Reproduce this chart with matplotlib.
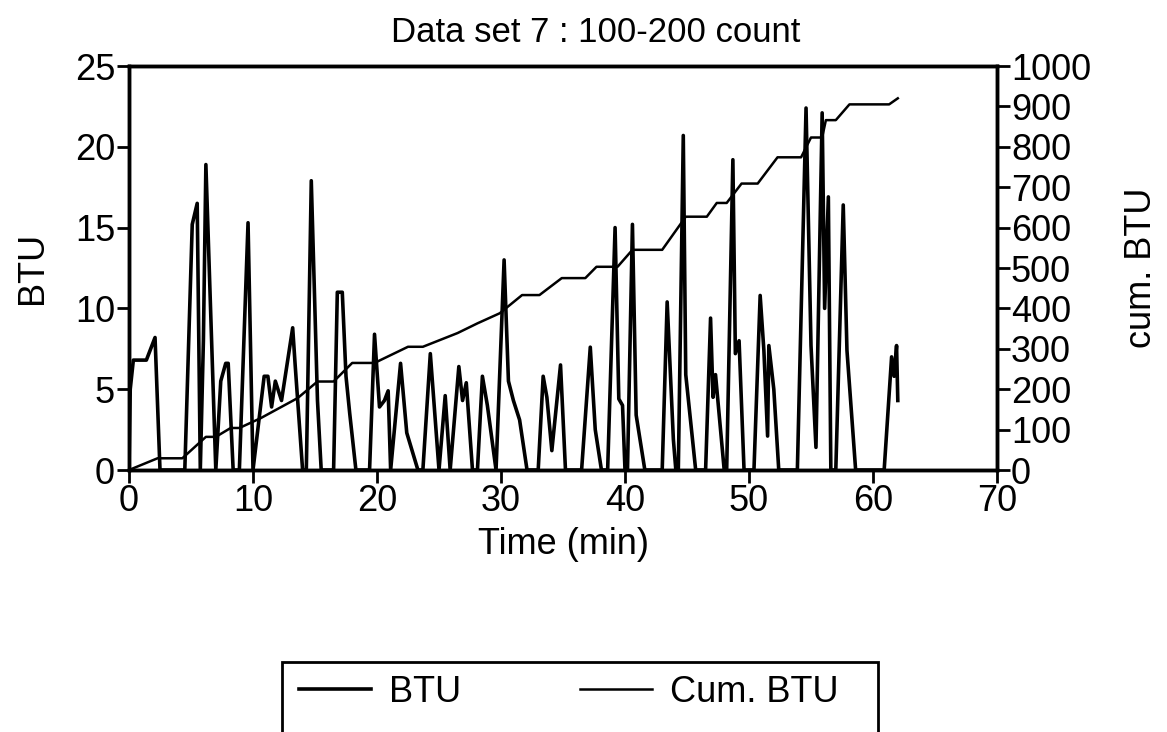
import matplotlib
matplotlib.use("Agg")
import matplotlib.pyplot as plt
from matplotlib.patches import Rectangle

plt.rcParams['font.family'] = ['Liberation Sans', 'DejaVu Sans']

# BTU readings (time in min, BTU)
btu_time = [0, 0.1, 0.35, 1.4, 2.1, 2.5, 4.5, 5.1, 5.5, 5.75, 6.0, 6.2, 7.0, 7.4, 7.8, 8.0,
            8.4, 8.9, 9.6, 10.0, 10.9, 11.2, 11.5, 11.8, 12.3, 13.2, 13.4, 14.0, 14.3, 14.7,
            15.2, 15.5, 16.5, 16.8, 17.2, 17.5, 17.8, 18.3, 19.4, 19.8, 20.2, 20.6, 20.9, 21.1,
            21.9, 22.4, 23.3, 23.7, 24.3, 25.0, 25.5, 25.9, 26.6, 26.9, 27.2, 27.7, 28.1, 28.5,
            28.9, 29.6, 30.25, 30.6, 31.0, 31.5, 32.1, 33.0, 33.4, 33.7, 34.1, 34.8, 35.2, 36.5,
            37.2, 37.6, 38.1, 38.6, 39.2, 39.5, 39.8, 40.0, 40.2, 40.6, 40.9, 41.6, 43.0, 43.4,
            43.9, 44.1, 44.3, 44.7, 44.9, 45.7, 46.5, 46.9, 47.1, 47.3, 48.0, 48.2, 48.7, 48.9,
            49.2, 49.6, 50.4, 50.9, 51.2, 51.5, 51.6, 52.0, 52.4, 53.9, 54.6, 55.0, 55.4, 55.9,
            56.1, 56.4, 56.6, 57.0, 57.6, 57.9, 58.6, 60.9, 61.5, 61.7, 61.9, 62.0]
btu = [0, 5.0, 6.8, 6.8, 8.2, 0, 0, 15.2, 16.5, 0, 8.0, 18.9, 0, 5.5, 6.6, 6.6,
       0, 0, 15.3, 0, 5.8, 5.8, 3.9, 5.5, 4.3, 8.8, 6.5, 0, 0, 17.9,
       4.3, 0, 0, 11.0, 11.0, 5.8, 3.5, 0, 0, 8.4, 3.9, 4.3, 4.9, 0,
       6.6, 2.3, 0, 0, 7.2, 0, 4.6, 0, 6.4, 4.3, 5.4, 0, 0, 5.8,
       4.0, 0, 13.0, 5.5, 4.3, 3.1, 0, 0, 5.8, 4.5, 1.2, 6.5, 0, 0,
       7.6, 2.5, 0, 0, 15.0, 4.4, 4.0, 0, 0, 15.2, 3.4, 0, 0, 10.4,
       1.9, 0, 0, 20.7, 5.9, 0, 0, 9.4, 4.5, 5.9, 0, 0, 19.2, 7.2,
       8.0, 0, 0, 10.8, 7.4, 2.1, 7.7, 5.0, 0, 0, 22.4, 7.7, 1.4, 22.1,
       10.0, 16.9, 0, 0, 16.4, 7.4, 0, 0, 7.0, 5.8, 7.7, 4.3]

# cumulative BTU
cum_time = [0, 2.3, 4.3, 6.2, 7.0, 8.2, 8.9, 10.6, 13.6, 15.2, 16.5, 18.0, 19.8, 22.5,
            23.7, 26.5, 28.1, 29.9, 31.7, 33.1, 34.9, 36.8, 37.7, 39.4, 40.6, 43.0, 44.9,
            46.6, 47.4, 48.2, 49.4, 50.7, 52.3, 54.2, 55.0, 55.9, 56.2, 57.0, 58.1, 61.3, 62.0]
cum_btu = [0, 29, 29, 82, 82, 104, 104, 128, 178, 219, 219, 265, 265, 305,
           305, 339, 363, 388, 433, 433, 475, 475, 503, 503, 545, 545, 627,
           627, 661, 661, 709, 709, 774, 774, 823, 823, 866, 866, 905, 905, 920]

fig = plt.figure(figsize=(11.67, 7.32), dpi=100)
ax = fig.add_axes([129 / 1167, 1 - 470 / 732, 868 / 1167, 404 / 732])
ax2 = ax.twinx()

l1, = ax.plot(btu_time, btu, color="black", lw=2.6)
l2, = ax2.plot(cum_time, cum_btu, color="black", lw=1.8)

ax.set_xlim(0, 70)
ax.set_ylim(0, 25)
ax2.set_ylim(0, 1000)
ax.set_xticks(range(0, 71, 10))
ax.set_yticks(range(0, 26, 5))
ax2.set_yticks(range(0, 1001, 100))

for a in (ax, ax2):
    for s in a.spines.values():
        s.set_linewidth(2.5)
    a.tick_params(direction="out", length=9, width=2, labelsize=26, pad=1)

fig.text(596 / 1167, 1 - 32 / 732, "Data set 7 : 100-200 count",
         fontsize=25, ha="center", va="center")
ax.set_xlabel("Time (min)", fontsize=26, labelpad=6)
ax.set_ylabel("BTU", fontsize=26, labelpad=18)
ax2.set_ylabel("cum. BTU", fontsize=26, labelpad=24)

fig.legend([l1, l2], ["BTU", "Cum. BTU"], loc="center left",
           bbox_to_anchor=(266 / 1167, 1 - 692 / 732), ncol=2, frameon=False,
           fontsize=26, handlelength=2.0, handletextpad=0.5, columnspacing=3.3)
fig.patches.append(Rectangle((282 / 1167, -0.1), 596 / 1167, 0.1 + 1 - 662 / 732,
                             transform=fig.transFigure, fill=False,
                             edgecolor="black", lw=2))

fig.savefig("out.png", dpi=100)
